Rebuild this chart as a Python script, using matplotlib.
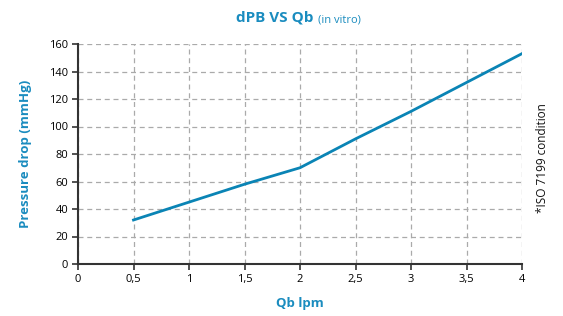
import matplotlib
matplotlib.use('Agg')
import matplotlib.pyplot as plt

qb = [0.5, 1, 1.5, 2, 2.5, 3, 3.5, 4]
dp = [32, 45, 58, 70, 91, 111, 132, 153]
xticks = [0, 0.5, 1, 1.5, 2, 2.5, 3, 3.5, 4]
xlabels = ['0', '0,5', '1', '1,5', '2', '2,5', '3', '3,5', '4']
yticks = [0, 20, 40, 60, 80, 100, 120, 140, 160]

BLUE = '#1a8cbf'
LINE = '#0a84b5'

plt.rcParams['font.family'] = ['Open Sans', 'DejaVu Sans']

fig = plt.figure(figsize=(5.63, 3.16), dpi=100)
ax = fig.add_axes([78 / 563, 52 / 316, 444 / 563, 220 / 316])

ax.plot(qb, dp, color=LINE, lw=2)

ax.set_xlim(0, 4)
ax.set_ylim(0, 160)
ax.set_xticks(xticks)
ax.set_xticklabels(xlabels)
ax.set_yticks(yticks)
ax.tick_params(labelsize=8, length=4, width=1.2, color='#333333', pad=3)

ax.grid(True, linestyle=(0, (4, 3)), color='#aaaaaa', lw=0.9)
ax.set_axisbelow(True)
for s in ['top', 'right']:
    ax.spines[s].set_visible(False)
for s in ['left', 'bottom']:
    ax.spines[s].set_color('#333333')
    ax.spines[s].set_linewidth(1.5)

ax.set_xlabel('Qb lpm', color=BLUE, fontsize=9.5, fontweight='bold', labelpad=9)
ax.set_ylabel('Pressure drop (mmHg)', color=BLUE, fontsize=9.5, fontweight='bold', labelpad=12)

fig.text(313 / 563, 1 - 22 / 316, 'dPB VS Qb', color=BLUE, fontsize=11,
         fontweight='bold', ha='right', va='baseline')
fig.text(318 / 563, 1 - 22 / 316, '(in vitro)', color=BLUE, fontsize=8,
         ha='left', va='baseline')
fig.text(542 / 563, 1 - 158 / 316, '*ISO 7199 condition', rotation=90, fontsize=8.5,
         ha='center', va='center', color='#111111')

fig.savefig('out.png', dpi=100)
